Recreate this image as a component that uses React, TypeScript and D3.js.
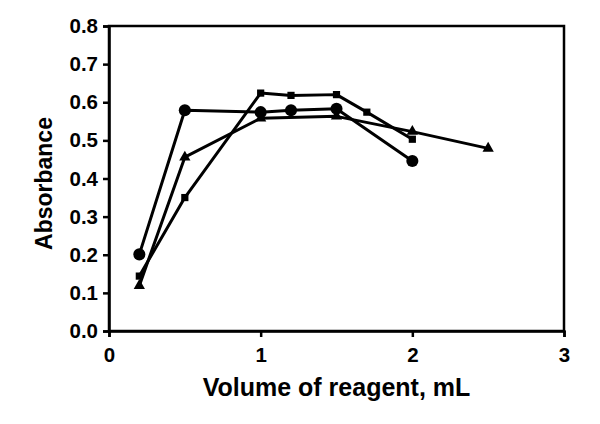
import React, { useEffect, useRef } from 'react';
import * as d3 from 'd3';

// series
const circleX = [0.2, 0.5, 1.0, 1.2, 1.5, 2.0];
const circleY = [0.201, 0.579, 0.574, 0.579, 0.583, 0.446];

const squareX = [0.2, 0.5, 1.0, 1.2, 1.5, 1.7, 2.0];
const squareY = [0.144, 0.35, 0.624, 0.618, 0.62, 0.574, 0.503];

const triangleX = [0.2, 0.5, 1.0, 1.5, 2.0, 2.5];
const triangleY = [0.119, 0.456, 0.558, 0.563, 0.523, 0.479];

const xTicks = [0, 1, 2, 3];
const yTicks = [0, 0.1, 0.2, 0.3, 0.4, 0.5, 0.6, 0.7, 0.8];

const App = () => {
  const ref = useRef<SVGSVGElement>(null);

  useEffect(() => {
    const W = 600, H = 424;
    const margin = { top: 26, right: 36, bottom: 93, left: 109 };
    const font = '"Liberation Sans", Arial, sans-serif';

    const svg = d3.select(ref.current);
    svg.selectAll('*').remove();

    const x = d3.scaleLinear().domain([0, 3]).range([margin.left, W - margin.right]);
    const y = d3.scaleLinear().domain([0, 0.8]).range([H - margin.bottom, margin.top]);

    svg.append('rect').attr('width', W).attr('height', H).attr('fill', 'white');

    // frame
    svg.append('rect')
      .attr('x', x(0)).attr('y', y(0.8))
      .attr('width', x(3) - x(0)).attr('height', y(0) - y(0.8))
      .attr('fill', 'none').attr('stroke', 'black').attr('stroke-width', 2.5);

    const xAxis = svg.append('g')
      .attr('transform', `translate(0,${y(0)})`)
      .call(d3.axisBottom(x).tickValues(xTicks).tickFormat(d3.format('d')).tickSize(6).tickPadding(10));
    const yAxis = svg.append('g')
      .attr('transform', `translate(${x(0)},0)`)
      .call(d3.axisLeft(y).tickValues(yTicks).tickFormat(d3.format('.1f')).tickSize(6).tickPadding(5));

    [xAxis, yAxis].forEach(g => {
      g.select('.domain').attr('stroke-width', 2.5);
      g.selectAll('.tick line').attr('stroke-width', 2.5);
      g.selectAll('.tick text')
        .attr('font-family', font).attr('font-weight', 'bold')
        .attr('font-size', 20.5).attr('fill', 'black');
    });

    const line = d3.line<[number, number]>().x(d => x(d[0])).y(d => y(d[1]));
    const series = [
      { xs: circleX, ys: circleY, sym: d3.symbolCircle, size: 115 },
      { xs: squareX, ys: squareY, sym: d3.symbolSquare, size: 52 },
      { xs: triangleX, ys: triangleY, sym: d3.symbolTriangle, size: 55 },
    ];

    series.forEach(s => {
      const pts: [number, number][] = s.xs.map((v, i) => [v, s.ys[i]]);
      svg.append('path')
        .attr('d', line(pts))
        .attr('fill', 'none').attr('stroke', 'black')
        .attr('stroke-width', 3).attr('stroke-linejoin', 'round');
      svg.append('g').selectAll('path')
        .data(pts)
        .join('path')
        .attr('transform', d => `translate(${x(d[0])},${y(d[1])})`)
        .attr('d', d3.symbol().type(s.sym).size(s.size)())
        .attr('fill', 'black');
    });

    svg.append('text')
      .attr('x', (x(0) + x(3)) / 2).attr('y', 396)
      .attr('text-anchor', 'middle')
      .attr('font-family', font).attr('font-weight', 'bold').attr('font-size', 25)
      .text('Volume of reagent, mL');

    svg.append('text')
      .attr('transform', `translate(52,${(y(0) + y(0.8)) / 2 + 5}) rotate(-90)`)
      .attr('text-anchor', 'middle')
      .attr('font-family', font).attr('font-weight', 'bold').attr('font-size', 23)
      .text('Absorbance');
  }, []);

  return (
    <svg ref={ref} width={600} height={424}
      style={{ position: 'absolute', left: 0, top: 0, display: 'block' }} />
  );
};

export default App;
